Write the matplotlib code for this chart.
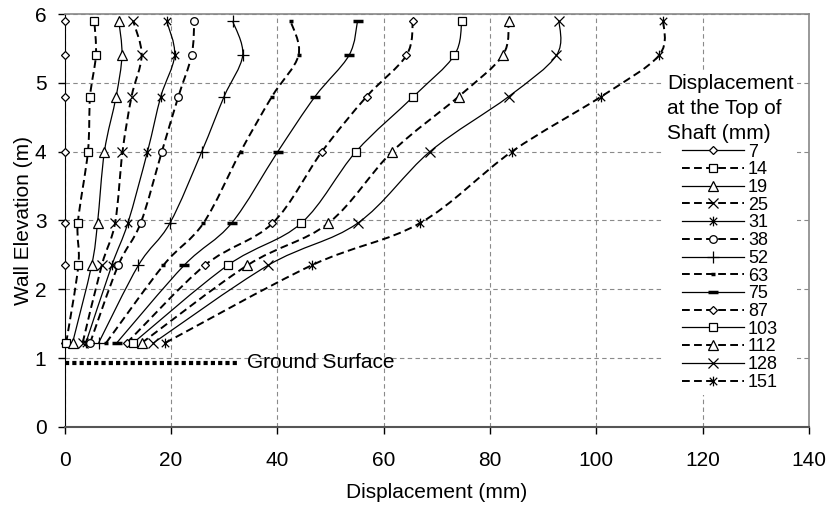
import matplotlib
matplotlib.use("Agg")
import matplotlib.pyplot as plt
import numpy as np
from matplotlib.path import Path
from matplotlib.patches import PathPatch
from matplotlib.lines import Line2D

plt.rcParams['font.family'] = ['Liberation Sans', 'DejaVu Sans']

# wall elevations where readings were taken (m)
elevation = [1.22, 2.35, 2.96, 4.0, 4.8, 5.4, 5.9]

# displacement at top of shaft (mm) -> series labels
labels = ['7', '14', '19', '25', '31', '38', '52', '63', '75', '87', '103', '112', '128', '151']

# wall displacement (mm) at each elevation, bottom to top
d7 = [0.0, 0.0, 0.0, 0.0, 0.0, 0.0, 0.0]
d14 = [0.3, 2.6, 2.5, 4.4, 4.8, 5.9, 5.6]
d19 = [1.5, 5.1, 6.2, 7.5, 9.7, 10.8, 10.2]
d25 = [3.4, 7.0, 9.5, 10.9, 12.6, 14.5, 12.9]
d31 = [4.0, 8.9, 11.9, 15.6, 18.1, 20.7, 19.2]
d38 = [4.8, 10.1, 14.3, 18.3, 21.4, 23.9, 24.4]
d52 = [6.4, 13.9, 19.8, 25.8, 30.0, 33.5, 31.6]
d63 = [7.8, 18.6, 26.1, 33.1, 39.0, 44.0, 42.5]
d75 = [9.8, 22.5, 31.4, 40.1, 47.1, 53.5, 55.1]
d87 = [11.7, 26.4, 39.1, 48.4, 56.8, 64.3, 65.5]
d103 = [12.9, 30.7, 44.5, 54.8, 65.6, 73.3, 74.7]
d112 = [14.5, 34.4, 49.6, 61.6, 74.1, 82.4, 83.5]
d128 = [16.7, 38.3, 55.1, 68.7, 83.5, 92.5, 93.0]
d151 = [18.9, 46.5, 66.8, 84.1, 100.9, 111.8, 112.6]
series = [d7, d14, d19, d25, d31, d38, d52, d63, d75, d87, d103, d112, d128, d151]

ground_x = [0, 33]
ground_y = [0.93, 0.93]

# excel-style star: x with a vertical bar
star = Path([(-1, -1), (1, 1), (-1, 1), (1, -1), (0, -1.3), (0, 1.3)],
            [Path.MOVETO, Path.LINETO, Path.MOVETO, Path.LINETO, Path.MOVETO, Path.LINETO])

styles = [
    dict(marker='D', ms=4.5, ls='-'),
    dict(marker='s', ms=5.5, ls='--'),
    dict(marker='^', ms=6.5, ls='-'),
    dict(marker='x', ms=6.5, ls='--'),
    dict(marker=star, ms=7, ls='-'),
    dict(marker='o', ms=5.5, ls='--'),
    dict(marker='+', ms=8, ls='-'),
    dict(marker='_', ms=3.5, ls='--', mew=2.5),
    dict(marker='_', ms=7, ls='-', mew=2.5),
    dict(marker='D', ms=4.5, ls='--'),
    dict(marker='s', ms=5.5, ls='-'),
    dict(marker='^', ms=6.5, ls='--'),
    dict(marker='x', ms=6.5, ls='-'),
    dict(marker=star, ms=7, ls='--'),
]


def smooth_path(x, y):
    # bezier through the points, like excel's smoothed line
    pts = np.column_stack([x, y]).astype(float)
    ext = np.vstack([pts[0], pts, pts[-1]])
    verts = [pts[0]]
    codes = [Path.MOVETO]
    for i in range(len(pts) - 1):
        p0, p1, p2, p3 = ext[i], ext[i + 1], ext[i + 2], ext[i + 3]
        verts += [p1 + (p2 - p0) / 6, p2 - (p3 - p1) / 6, p2]
        codes += [Path.CURVE4] * 3
    return Path(verts, codes)


fig = plt.figure(figsize=(8.37, 5.11), dpi=100)
ax = fig.add_axes([0.0771, 0.1644, 0.8895, 0.8082])

handles = []
for vals, lab, st in zip(series, labels, styles):
    dashed = st['ls'] == '--'
    lw = 1.4 if dashed else 0.9
    dash = (0, (4, 2.2)) if dashed else '-'
    patch = PathPatch(smooth_path(vals, elevation), fill=False, edgecolor='black',
                      lw=lw, linestyle=dash, zorder=3)
    ax.add_patch(patch)
    mew = st.get('mew', 0.9)
    ax.plot(vals, elevation, linestyle='none', marker=st['marker'], ms=st['ms'],
            mfc='white', mec='black', mew=mew, zorder=4, clip_on=False)
    handles.append(Line2D([], [], color='black', lw=lw, linestyle=dash,
                          marker=st['marker'], ms=st['ms'], mfc='white',
                          mec='black', mew=mew, label=lab))

ax.plot(ground_x, ground_y, color='black', lw=3, linestyle=(0, (1, 0.75)), zorder=3)
ax.text(34.3, 0.93, 'Ground Surface', fontsize=15, va='center', ha='left')

ax.set_xlim(0, 140)
ax.set_ylim(0, 6)
ax.set_xticks(np.arange(0, 141, 20))
ax.set_yticks(np.arange(0, 7, 1))
ax.grid(True, color='#8a8a8a', linestyle=(0, (4, 3)), lw=0.8)
ax.set_axisbelow(True)
ax.tick_params(labelsize=15, length=5, width=1, direction='out')
ax.tick_params(axis='x', pad=12)
ax.tick_params(axis='y', pad=8)
for side in ['top', 'right']:
    ax.spines[side].set_color('#888888')
    ax.spines[side].set_linewidth(1.2)
ax.spines['left'].set_color('black')
ax.spines['bottom'].set_color('#555555')
ax.spines['bottom'].set_linewidth(1.5)

ax.set_xlabel('Displacement (mm)', fontsize=15)
ax.set_ylabel('Wall Elevation (m)', fontsize=15)
ax.xaxis.set_label_coords(0.5, -0.135)
ax.yaxis.set_label_coords(-0.042, 0.5)

leg = ax.legend(handles=handles, title='Displacement\nat the Top of\nShaft (mm)',
                loc='upper right', bbox_to_anchor=(0.984, 0.864), fontsize=13,
                title_fontsize=15, frameon=True, fancybox=False,
                edgecolor='none', facecolor='white', framealpha=1,
                handlelength=3.4, handletextpad=0.25, labelspacing=0.04,
                borderpad=0.2, borderaxespad=0, alignment='center')
leg.get_title().set_linespacing(1.4)
leg.set_zorder(5)

fig.savefig('out.png', dpi=100)
